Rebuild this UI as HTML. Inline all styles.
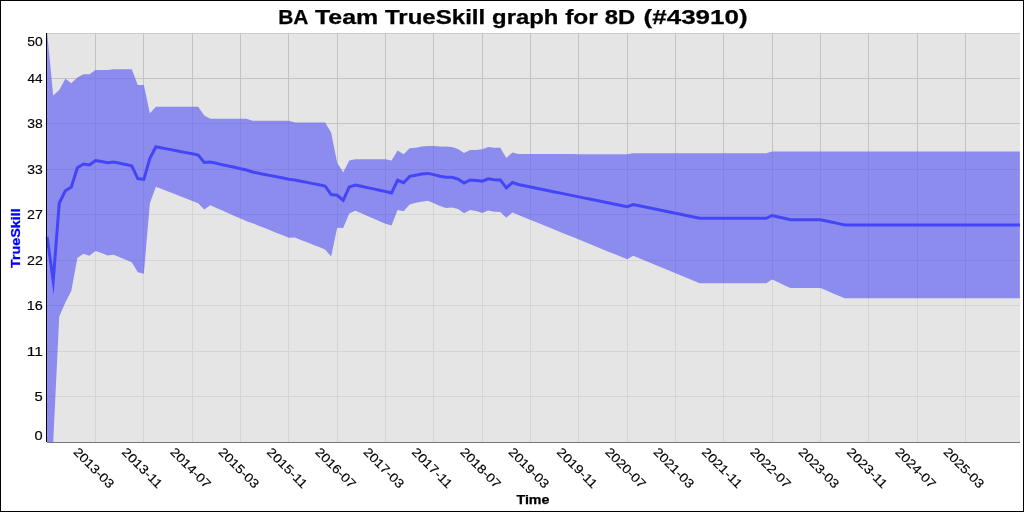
<!DOCTYPE html>
<html><head><meta charset="utf-8"><style>
html,body{margin:0;padding:0;background:#fff;width:1024px;height:512px;overflow:hidden}
svg{display:block;will-change:transform;font-family:"Liberation Sans",sans-serif}
text.r{stroke:#000;stroke-width:0.15}
text.b{stroke:#000;stroke-width:0.25}
text.bb{stroke:#0000ff;stroke-width:0.25}
</style></head><body>
<svg width="1024" height="512" viewBox="0 0 1024 512">
<rect x="0.5" y="0.5" width="1023" height="511" fill="#fff" stroke="#000" stroke-width="1"/>
<rect x="46" y="33" width="974" height="409" fill="#e5e5e5"/>
<line x1="47" y1="33.5" x2="1020" y2="33.5" stroke="#cbcbcb" stroke-width="1"/>
<line x1="47" y1="396.50" x2="1020" y2="396.50" stroke="#c3c3c3" stroke-width="1"/>
<line x1="47" y1="351.50" x2="1020" y2="351.50" stroke="#c3c3c3" stroke-width="1"/>
<line x1="47" y1="305.50" x2="1020" y2="305.50" stroke="#c3c3c3" stroke-width="1"/>
<line x1="47" y1="260.50" x2="1020" y2="260.50" stroke="#c3c3c3" stroke-width="1"/>
<line x1="47" y1="214.50" x2="1020" y2="214.50" stroke="#c3c3c3" stroke-width="1"/>
<line x1="47" y1="169.50" x2="1020" y2="169.50" stroke="#c3c3c3" stroke-width="1"/>
<line x1="47" y1="123.50" x2="1020" y2="123.50" stroke="#c3c3c3" stroke-width="1"/>
<line x1="47" y1="78.50" x2="1020" y2="78.50" stroke="#c3c3c3" stroke-width="1"/>
<line x1="95.50" y1="33" x2="95.50" y2="442" stroke="#c3c3c3" stroke-width="1"/>
<line x1="143.50" y1="33" x2="143.50" y2="442" stroke="#c3c3c3" stroke-width="1"/>
<line x1="192.50" y1="33" x2="192.50" y2="442" stroke="#c3c3c3" stroke-width="1"/>
<line x1="240.50" y1="33" x2="240.50" y2="442" stroke="#c3c3c3" stroke-width="1"/>
<line x1="288.50" y1="33" x2="288.50" y2="442" stroke="#c3c3c3" stroke-width="1"/>
<line x1="337.50" y1="33" x2="337.50" y2="442" stroke="#c3c3c3" stroke-width="1"/>
<line x1="385.50" y1="33" x2="385.50" y2="442" stroke="#c3c3c3" stroke-width="1"/>
<line x1="433.50" y1="33" x2="433.50" y2="442" stroke="#c3c3c3" stroke-width="1"/>
<line x1="482.50" y1="33" x2="482.50" y2="442" stroke="#c3c3c3" stroke-width="1"/>
<line x1="530.50" y1="33" x2="530.50" y2="442" stroke="#c3c3c3" stroke-width="1"/>
<line x1="578.50" y1="33" x2="578.50" y2="442" stroke="#c3c3c3" stroke-width="1"/>
<line x1="627.50" y1="33" x2="627.50" y2="442" stroke="#c3c3c3" stroke-width="1"/>
<line x1="675.50" y1="33" x2="675.50" y2="442" stroke="#c3c3c3" stroke-width="1"/>
<line x1="723.50" y1="33" x2="723.50" y2="442" stroke="#c3c3c3" stroke-width="1"/>
<line x1="772.50" y1="33" x2="772.50" y2="442" stroke="#c3c3c3" stroke-width="1"/>
<line x1="820.50" y1="33" x2="820.50" y2="442" stroke="#c3c3c3" stroke-width="1"/>
<line x1="868.50" y1="33" x2="868.50" y2="442" stroke="#c3c3c3" stroke-width="1"/>
<line x1="917.50" y1="33" x2="917.50" y2="442" stroke="#c3c3c3" stroke-width="1"/>
<line x1="965.50" y1="33" x2="965.50" y2="442" stroke="#c3c3c3" stroke-width="1"/>
<polygon points="47.17,33.00 53.21,95.50 59.25,90.00 65.30,78.75 71.34,83.25 77.38,77.50 83.42,74.25 89.46,74.25 95.50,70.00 101.55,70.00 107.59,70.00 113.63,69.25 119.67,69.25 125.71,69.25 131.75,69.25 137.80,85.00 143.84,85.00 149.88,113.25 155.92,106.75 161.96,106.75 168.00,106.75 174.05,106.75 180.09,106.75 186.13,106.75 192.17,106.75 198.21,106.75 204.25,115.50 210.30,118.75 216.34,118.75 222.38,118.75 228.42,118.75 234.46,118.75 240.50,118.75 246.55,118.75 252.59,120.75 258.63,120.75 264.67,120.75 270.71,120.75 276.75,120.75 282.80,120.75 288.84,120.75 294.88,122.50 300.92,122.50 306.96,122.50 313.00,122.50 319.05,122.50 325.09,122.50 331.13,132.50 337.17,162.75 343.21,172.50 349.25,160.50 355.30,159.25 361.34,159.25 367.38,159.25 373.42,159.25 379.46,159.25 385.50,159.25 391.55,160.50 397.59,150.50 403.63,154.25 409.67,148.25 415.71,147.75 421.75,146.50 427.80,146.00 433.84,146.00 439.88,146.50 445.92,146.50 451.96,147.00 458.00,149.00 464.05,153.00 470.09,150.00 476.13,150.00 482.17,149.25 488.21,147.00 494.25,147.75 500.30,147.75 506.34,158.00 512.38,152.50 518.42,154.00 524.46,154.01 530.50,154.03 536.55,154.04 542.59,154.06 548.63,154.07 554.67,154.08 560.71,154.10 566.75,154.11 572.80,154.12 578.84,154.14 584.88,154.15 590.92,154.17 596.96,154.18 603.00,154.19 609.05,154.21 615.09,154.22 621.13,154.24 627.17,154.25 633.21,153.25 639.25,153.25 645.30,153.25 651.34,153.25 657.38,153.25 663.42,153.25 669.46,153.25 675.50,153.25 681.55,153.25 687.59,153.25 693.63,153.25 699.67,153.25 705.71,153.25 711.75,153.25 717.80,153.25 723.84,153.25 729.88,153.25 735.92,153.25 741.96,153.25 748.00,153.25 754.05,153.25 760.09,153.25 766.13,153.25 772.17,151.50 778.21,151.50 784.25,151.50 790.30,151.50 796.34,151.50 802.38,151.50 808.42,151.50 814.46,151.50 820.50,151.50 826.55,151.50 832.59,151.50 838.63,151.50 844.67,151.50 850.71,151.50 856.75,151.50 862.80,151.50 868.84,151.50 874.88,151.50 880.92,151.50 886.96,151.50 893.00,151.50 899.05,151.50 905.09,151.50 911.13,151.50 917.17,151.50 923.21,151.50 929.25,151.50 935.30,151.50 941.34,151.50 947.38,151.50 953.42,151.50 959.46,151.50 965.50,151.50 971.55,151.50 977.59,151.50 983.63,151.50 989.67,151.50 995.71,151.50 1001.75,151.50 1007.80,151.50 1013.84,151.50 1019.88,151.50 1019.88,442 47.17,442" fill="rgba(229,229,229,0.53)"/>
<polygon points="46.5,33.0 47.17,33.00 53.21,95.50 59.25,90.00 65.30,78.75 71.34,83.25 77.38,77.50 83.42,74.25 89.46,74.25 95.50,70.00 101.55,70.00 107.59,70.00 113.63,69.25 119.67,69.25 125.71,69.25 131.75,69.25 137.80,85.00 143.84,85.00 149.88,113.25 155.92,106.75 161.96,106.75 168.00,106.75 174.05,106.75 180.09,106.75 186.13,106.75 192.17,106.75 198.21,106.75 204.25,115.50 210.30,118.75 216.34,118.75 222.38,118.75 228.42,118.75 234.46,118.75 240.50,118.75 246.55,118.75 252.59,120.75 258.63,120.75 264.67,120.75 270.71,120.75 276.75,120.75 282.80,120.75 288.84,120.75 294.88,122.50 300.92,122.50 306.96,122.50 313.00,122.50 319.05,122.50 325.09,122.50 331.13,132.50 337.17,162.75 343.21,172.50 349.25,160.50 355.30,159.25 361.34,159.25 367.38,159.25 373.42,159.25 379.46,159.25 385.50,159.25 391.55,160.50 397.59,150.50 403.63,154.25 409.67,148.25 415.71,147.75 421.75,146.50 427.80,146.00 433.84,146.00 439.88,146.50 445.92,146.50 451.96,147.00 458.00,149.00 464.05,153.00 470.09,150.00 476.13,150.00 482.17,149.25 488.21,147.00 494.25,147.75 500.30,147.75 506.34,158.00 512.38,152.50 518.42,154.00 524.46,154.01 530.50,154.03 536.55,154.04 542.59,154.06 548.63,154.07 554.67,154.08 560.71,154.10 566.75,154.11 572.80,154.12 578.84,154.14 584.88,154.15 590.92,154.17 596.96,154.18 603.00,154.19 609.05,154.21 615.09,154.22 621.13,154.24 627.17,154.25 633.21,153.25 639.25,153.25 645.30,153.25 651.34,153.25 657.38,153.25 663.42,153.25 669.46,153.25 675.50,153.25 681.55,153.25 687.59,153.25 693.63,153.25 699.67,153.25 705.71,153.25 711.75,153.25 717.80,153.25 723.84,153.25 729.88,153.25 735.92,153.25 741.96,153.25 748.00,153.25 754.05,153.25 760.09,153.25 766.13,153.25 772.17,151.50 778.21,151.50 784.25,151.50 790.30,151.50 796.34,151.50 802.38,151.50 808.42,151.50 814.46,151.50 820.50,151.50 826.55,151.50 832.59,151.50 838.63,151.50 844.67,151.50 850.71,151.50 856.75,151.50 862.80,151.50 868.84,151.50 874.88,151.50 880.92,151.50 886.96,151.50 893.00,151.50 899.05,151.50 905.09,151.50 911.13,151.50 917.17,151.50 923.21,151.50 929.25,151.50 935.30,151.50 941.34,151.50 947.38,151.50 953.42,151.50 959.46,151.50 965.50,151.50 971.55,151.50 977.59,151.50 983.63,151.50 989.67,151.50 995.71,151.50 1001.75,151.50 1007.80,151.50 1013.84,151.50 1019.88,151.50 1019.88,298.30 1013.84,298.30 1007.80,298.30 1001.75,298.30 995.71,298.30 989.67,298.30 983.63,298.30 977.59,298.30 971.55,298.30 965.50,298.30 959.46,298.30 953.42,298.30 947.38,298.30 941.34,298.30 935.30,298.30 929.25,298.30 923.21,298.30 917.17,298.30 911.13,298.30 905.09,298.30 899.05,298.30 893.00,298.30 886.96,298.30 880.92,298.30 874.88,298.30 868.84,298.30 862.80,298.30 856.75,298.30 850.71,298.30 844.67,298.30 838.63,295.73 832.59,293.15 826.55,290.57 820.50,288.00 814.46,288.00 808.42,288.00 802.38,288.00 796.34,288.00 790.30,288.00 784.25,285.17 778.21,282.33 772.17,279.50 766.13,283.25 760.09,283.25 754.05,283.25 748.00,283.25 741.96,283.25 735.92,283.25 729.88,283.25 723.84,283.25 717.80,283.25 711.75,283.25 705.71,283.25 699.67,283.25 693.63,280.75 687.59,278.25 681.55,275.75 675.50,273.25 669.46,270.75 663.42,268.25 657.38,265.75 651.34,263.25 645.30,260.75 639.25,258.25 633.21,255.75 627.17,259.25 621.13,256.79 615.09,254.33 609.05,251.88 603.00,249.42 596.96,246.96 590.92,244.50 584.88,242.04 578.84,239.58 572.80,237.12 566.75,234.67 560.71,232.21 554.67,229.75 548.63,227.29 542.59,224.83 536.55,222.37 530.50,219.92 524.46,217.46 518.42,215.00 512.38,212.50 506.34,217.80 500.30,212.05 494.25,211.75 488.21,210.50 482.17,212.95 476.13,211.00 470.09,210.00 464.05,213.20 458.00,209.00 451.96,207.50 445.92,208.00 439.88,205.90 433.84,203.20 427.80,200.80 421.75,201.70 415.71,202.75 409.67,204.55 403.63,211.25 397.59,210.00 391.55,225.50 385.50,223.75 379.46,221.15 373.42,218.55 367.38,215.95 361.34,213.35 355.30,210.75 349.25,213.50 343.21,228.00 337.17,227.75 331.13,256.50 325.09,249.50 319.05,247.10 313.00,244.70 306.96,242.30 300.92,239.90 294.88,237.50 288.84,237.75 282.80,235.33 276.75,232.92 270.71,230.50 264.67,228.08 258.63,225.67 252.59,223.25 246.55,221.25 240.50,218.58 234.46,215.92 228.42,213.25 222.38,210.58 216.34,207.92 210.30,205.25 204.25,209.50 198.21,203.25 192.17,200.89 186.13,198.54 180.09,196.18 174.05,193.82 168.00,191.46 161.96,189.11 155.92,186.75 149.88,203.25 143.84,273.80 137.80,272.20 131.75,262.25 125.71,259.75 119.67,257.25 113.63,254.75 107.59,255.50 101.55,253.00 95.50,251.00 89.46,255.75 83.42,253.75 77.38,258.00 71.34,290.75 65.30,302.75 59.25,316.50 53.21,442.00 47.17,442.00 46.5,442" fill="rgba(0,0,255,0.39)"/>
<polyline points="47.17,237.00 53.21,281.00 59.25,203.25 65.30,190.75 71.34,187.00 77.38,167.75 83.42,164.00 89.46,165.00 95.50,160.50 101.55,161.50 107.59,162.75 113.63,162.00 119.67,163.25 125.71,164.50 131.75,165.75 137.80,178.60 143.84,179.40 149.88,158.25 155.92,146.75 161.96,147.93 168.00,149.11 174.05,150.29 180.09,151.46 186.13,152.64 192.17,153.82 198.21,155.00 204.25,162.50 210.30,162.00 216.34,163.33 222.38,164.67 228.42,166.00 234.46,167.33 240.50,168.67 246.55,170.00 252.59,172.00 258.63,173.21 264.67,174.42 270.71,175.62 276.75,176.83 282.80,178.04 288.84,179.25 294.88,180.00 300.92,181.20 306.96,182.40 313.00,183.60 319.05,184.80 325.09,186.00 331.13,194.50 337.17,195.25 343.21,200.25 349.25,187.00 355.30,185.00 361.34,186.30 367.38,187.60 373.42,188.90 379.46,190.20 385.50,191.50 391.55,193.00 397.59,180.25 403.63,182.75 409.67,176.40 415.71,175.25 421.75,174.10 427.80,173.40 433.84,174.60 439.88,176.20 445.92,177.25 451.96,177.25 458.00,179.00 464.05,183.10 470.09,180.00 476.13,180.50 482.17,181.10 488.21,178.75 494.25,179.75 500.30,179.90 506.34,187.90 512.38,182.50 518.42,184.50 524.46,185.74 530.50,186.97 536.55,188.21 542.59,189.44 548.63,190.68 554.67,191.92 560.71,193.15 566.75,194.39 572.80,195.62 578.84,196.86 584.88,198.10 590.92,199.33 596.96,200.57 603.00,201.81 609.05,203.04 615.09,204.28 621.13,205.51 627.17,206.75 633.21,204.50 639.25,205.75 645.30,207.00 651.34,208.25 657.38,209.50 663.42,210.75 669.46,212.00 675.50,213.25 681.55,214.50 687.59,215.75 693.63,217.00 699.67,218.25 705.71,218.25 711.75,218.25 717.80,218.25 723.84,218.25 729.88,218.25 735.92,218.25 741.96,218.25 748.00,218.25 754.05,218.25 760.09,218.25 766.13,218.25 772.17,215.50 778.21,216.92 784.25,218.33 790.30,219.75 796.34,219.75 802.38,219.75 808.42,219.75 814.46,219.75 820.50,219.75 826.55,221.04 832.59,222.32 838.63,223.61 844.67,224.90 850.71,224.90 856.75,224.90 862.80,224.90 868.84,224.90 874.88,224.90 880.92,224.90 886.96,224.90 893.00,224.90 899.05,224.90 905.09,224.90 911.13,224.90 917.17,224.90 923.21,224.90 929.25,224.90 935.30,224.90 941.34,224.90 947.38,224.90 953.42,224.90 959.46,224.90 965.50,224.90 971.55,224.90 977.59,224.90 983.63,224.90 989.67,224.90 995.71,224.90 1001.75,224.90 1007.80,224.90 1013.84,224.90 1019.88,224.90" fill="none" stroke="#4545f8" stroke-width="3" stroke-linejoin="miter" stroke-miterlimit="20"/>
<line x1="46.5" y1="33" x2="46.5" y2="442" stroke="#000" stroke-width="1"/>
<line x1="47" y1="442.5" x2="1020" y2="442.5" stroke="#777" stroke-width="1"/>
<text class="r" x="34.63" y="439.60" font-size="12.3" textLength="8.14" lengthAdjust="spacingAndGlyphs">0</text>
<text class="r" x="34.61" y="400.96" font-size="12.3" textLength="8.21" lengthAdjust="spacingAndGlyphs">5</text>
<text class="r" x="26.69" y="355.51" font-size="12.3" textLength="16.22" lengthAdjust="spacingAndGlyphs">11</text>
<text class="r" x="26.69" y="310.07" font-size="12.3" textLength="16.14" lengthAdjust="spacingAndGlyphs">16</text>
<text class="r" x="27.08" y="264.62" font-size="12.3" textLength="15.83" lengthAdjust="spacingAndGlyphs">22</text>
<text class="r" x="27.08" y="219.18" font-size="12.3" textLength="15.83" lengthAdjust="spacingAndGlyphs">27</text>
<text class="r" x="27.27" y="173.73" font-size="12.3" textLength="15.55" lengthAdjust="spacingAndGlyphs">33</text>
<text class="r" x="27.27" y="128.29" font-size="12.3" textLength="15.54" lengthAdjust="spacingAndGlyphs">38</text>
<text class="r" x="27.49" y="82.84" font-size="12.3" textLength="15.11" lengthAdjust="spacingAndGlyphs">44</text>
<text class="r" x="27.24" y="45.90" font-size="12.3" textLength="15.50" lengthAdjust="spacingAndGlyphs">50</text>
<g transform="translate(93.95,467.85) rotate(45)"><text class="r" x="0" y="4.3" text-anchor="middle" font-size="12.5" textLength="51.3" lengthAdjust="spacingAndGlyphs">2013-03</text></g>
<g transform="translate(142.29,467.85) rotate(45)"><text class="r" x="0" y="4.3" text-anchor="middle" font-size="12.5" textLength="51.3" lengthAdjust="spacingAndGlyphs">2013-11</text></g>
<g transform="translate(190.62,467.85) rotate(45)"><text class="r" x="0" y="4.3" text-anchor="middle" font-size="12.5" textLength="51.3" lengthAdjust="spacingAndGlyphs">2014-07</text></g>
<g transform="translate(238.95,467.85) rotate(45)"><text class="r" x="0" y="4.3" text-anchor="middle" font-size="12.5" textLength="51.3" lengthAdjust="spacingAndGlyphs">2015-03</text></g>
<g transform="translate(287.29,467.85) rotate(45)"><text class="r" x="0" y="4.3" text-anchor="middle" font-size="12.5" textLength="51.3" lengthAdjust="spacingAndGlyphs">2015-11</text></g>
<g transform="translate(335.62,467.85) rotate(45)"><text class="r" x="0" y="4.3" text-anchor="middle" font-size="12.5" textLength="51.3" lengthAdjust="spacingAndGlyphs">2016-07</text></g>
<g transform="translate(383.95,467.85) rotate(45)"><text class="r" x="0" y="4.3" text-anchor="middle" font-size="12.5" textLength="51.3" lengthAdjust="spacingAndGlyphs">2017-03</text></g>
<g transform="translate(432.29,467.85) rotate(45)"><text class="r" x="0" y="4.3" text-anchor="middle" font-size="12.5" textLength="51.3" lengthAdjust="spacingAndGlyphs">2017-11</text></g>
<g transform="translate(480.62,467.85) rotate(45)"><text class="r" x="0" y="4.3" text-anchor="middle" font-size="12.5" textLength="51.3" lengthAdjust="spacingAndGlyphs">2018-07</text></g>
<g transform="translate(528.95,467.85) rotate(45)"><text class="r" x="0" y="4.3" text-anchor="middle" font-size="12.5" textLength="51.3" lengthAdjust="spacingAndGlyphs">2019-03</text></g>
<g transform="translate(577.29,467.85) rotate(45)"><text class="r" x="0" y="4.3" text-anchor="middle" font-size="12.5" textLength="51.3" lengthAdjust="spacingAndGlyphs">2019-11</text></g>
<g transform="translate(625.62,467.85) rotate(45)"><text class="r" x="0" y="4.3" text-anchor="middle" font-size="12.5" textLength="51.3" lengthAdjust="spacingAndGlyphs">2020-07</text></g>
<g transform="translate(673.95,467.85) rotate(45)"><text class="r" x="0" y="4.3" text-anchor="middle" font-size="12.5" textLength="51.3" lengthAdjust="spacingAndGlyphs">2021-03</text></g>
<g transform="translate(722.29,467.85) rotate(45)"><text class="r" x="0" y="4.3" text-anchor="middle" font-size="12.5" textLength="51.3" lengthAdjust="spacingAndGlyphs">2021-11</text></g>
<g transform="translate(770.62,467.85) rotate(45)"><text class="r" x="0" y="4.3" text-anchor="middle" font-size="12.5" textLength="51.3" lengthAdjust="spacingAndGlyphs">2022-07</text></g>
<g transform="translate(818.95,467.85) rotate(45)"><text class="r" x="0" y="4.3" text-anchor="middle" font-size="12.5" textLength="51.3" lengthAdjust="spacingAndGlyphs">2023-03</text></g>
<g transform="translate(867.29,467.85) rotate(45)"><text class="r" x="0" y="4.3" text-anchor="middle" font-size="12.5" textLength="51.3" lengthAdjust="spacingAndGlyphs">2023-11</text></g>
<g transform="translate(915.62,467.85) rotate(45)"><text class="r" x="0" y="4.3" text-anchor="middle" font-size="12.5" textLength="51.3" lengthAdjust="spacingAndGlyphs">2024-07</text></g>
<g transform="translate(963.95,467.85) rotate(45)"><text class="r" x="0" y="4.3" text-anchor="middle" font-size="12.5" textLength="51.3" lengthAdjust="spacingAndGlyphs">2025-03</text></g>
<text class="b" x="278.19" y="24.00" font-size="20" font-weight="bold" textLength="30.36" lengthAdjust="spacingAndGlyphs">BA</text>
<text class="b" x="314.98" y="24.00" font-size="20" font-weight="bold" textLength="63.27" lengthAdjust="spacingAndGlyphs">Team</text>
<text class="b" x="384.98" y="24.00" font-size="20" font-weight="bold" textLength="100.20" lengthAdjust="spacingAndGlyphs">TrueSkill</text>
<text class="b" x="492.12" y="24.00" font-size="20" font-weight="bold" textLength="66.26" lengthAdjust="spacingAndGlyphs">graph</text>
<text class="b" x="565.18" y="24.00" font-size="20" font-weight="bold" textLength="32.69" lengthAdjust="spacingAndGlyphs">for</text>
<text class="b" x="604.85" y="24.00" font-size="20" font-weight="bold" textLength="30.40" lengthAdjust="spacingAndGlyphs">8D</text>
<text class="b" x="643.61" y="24.00" font-size="20" font-weight="bold" textLength="103.94" lengthAdjust="spacingAndGlyphs">(#43910)</text>
<text class="b" x="516.44" y="503.75" font-size="12.5" font-weight="bold" textLength="33.04" lengthAdjust="spacingAndGlyphs">Time</text>
<g transform="translate(20,477) rotate(-90)"><text class="bb" x="208.94" y="0" font-size="12.5" font-weight="bold" fill="#0000ff" textLength="59.86" lengthAdjust="spacingAndGlyphs">TrueSkill</text></g>
</svg></body></html>
